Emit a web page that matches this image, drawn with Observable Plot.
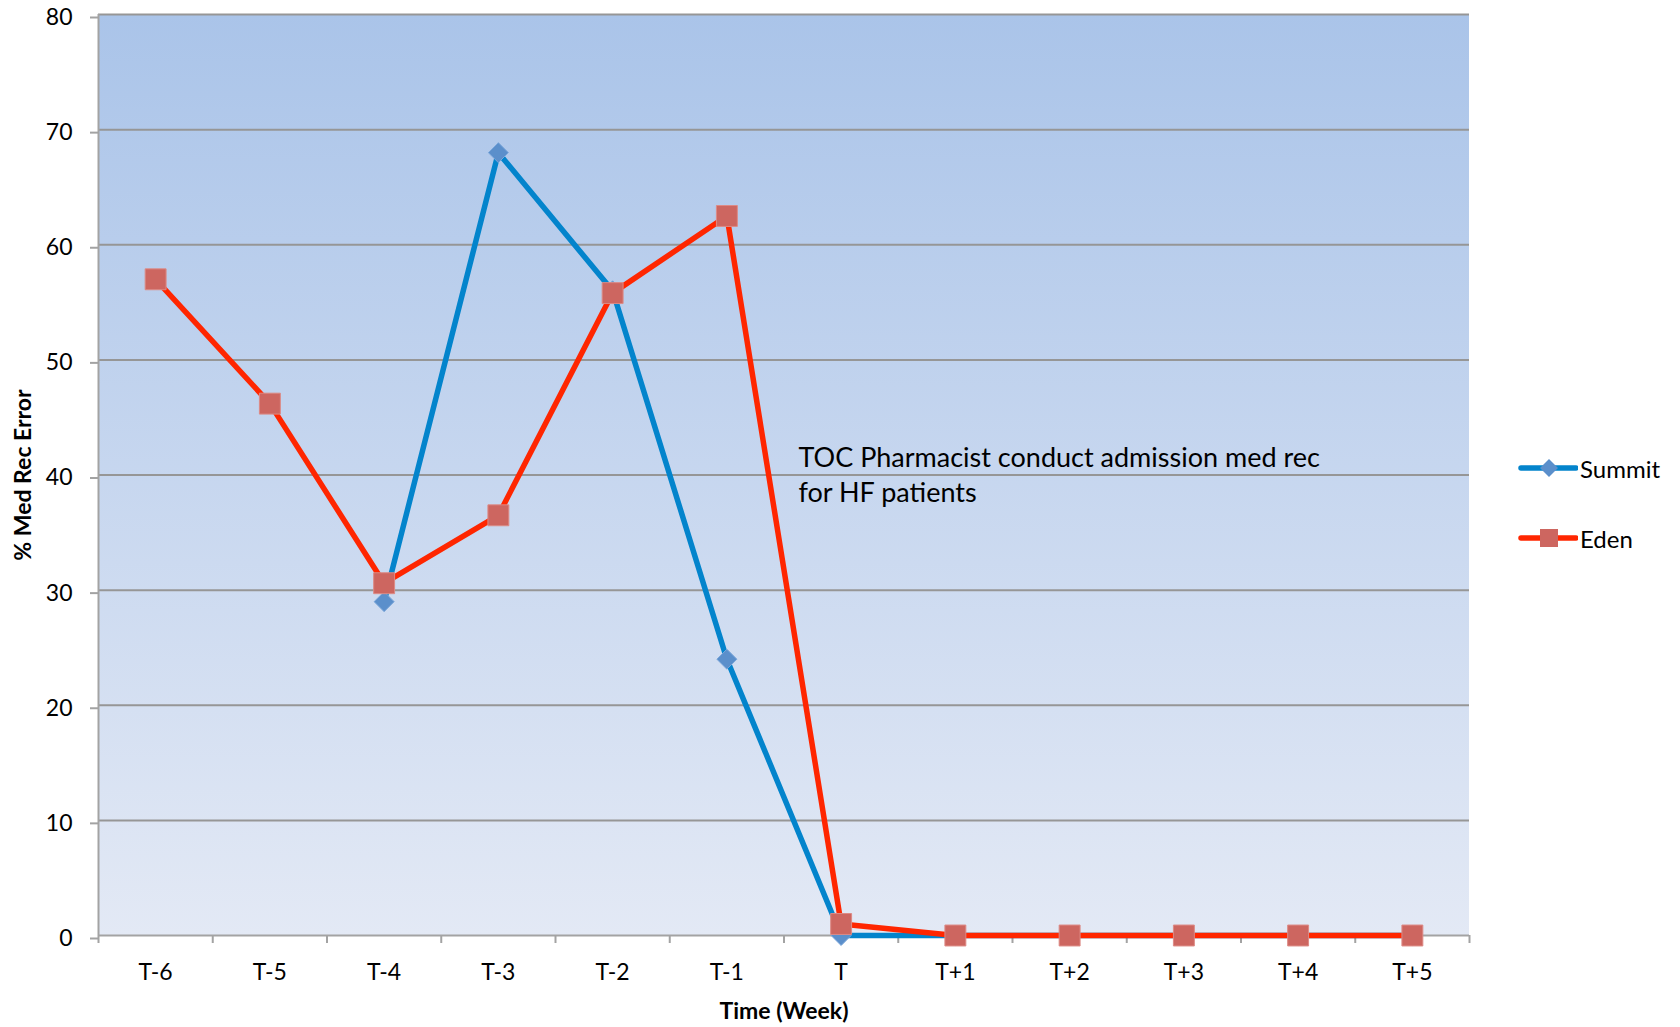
<!DOCTYPE html>
<html>
<head>
<meta charset="utf-8">
<script src="https://cdn.jsdelivr.net/npm/d3@7"></script>
<script src="https://cdn.jsdelivr.net/npm/@observablehq/plot@0.6"></script>
<style>
  html, body { margin: 0; padding: 0; background: #fff; }
  #wrap { position: relative; width: 1680px; height: 1027px; font-family: Lato, "Open Sans", sans-serif; }
  #wrap svg { display: block; }
  .legend { position: absolute; left: 1518px; font-size: 24px; color: #000; display: flex; align-items: center; }
  .legend svg { margin-right: 2px; }
</style>
</head>
<body>
<div id="wrap"></div>
<script>
// Weekly share of admission medication reconciliations with an error
const weeks = ["T-6", "T-5", "T-4", "T-3", "T-2", "T-1", "T", "T+1", "T+2", "T+3", "T+4", "T+5"];
const summit = [null, null, 29, 68, 56, 24, 0, 0, 0, 0, 0, 0];
const eden = [57, 46.2, 30.6, 36.5, 55.8, 62.5, 1, 0, 0, 0, 0, 0];
const yTicks = [0, 10, 20, 30, 40, 50, 60, 70, 80];
const note = "TOC Pharmacist conduct admission med rec\nfor HF patients";

const summitColor = "#0384cc", summitMarker = "#5b8fcb";
const edenColor = "#ff2600", edenMarker = "#cd6660";

const rows = (vals) => vals.map((v, i) => ({week: weeks[i], i, v})).filter(d => d.v != null);
const summitRows = rows(summit);
const edenRows = rows(eden);
const idx = weeks.map((_, i) => i);
const bounds = weeks.map((_, i) => i - 0.5).concat([weeks.length - 0.5]);

// Vertical gradient behind the plotting area
function backdrop(index, scales, values, dim, context) {
  const doc = context.document;
  const ns = "http://www.w3.org/2000/svg";
  const g = doc.createElementNS(ns, "g");
  const defs = doc.createElementNS(ns, "defs");
  const lg = doc.createElementNS(ns, "linearGradient");
  lg.setAttribute("id", "bgGrad");
  lg.setAttribute("x1", "0"); lg.setAttribute("y1", "0");
  lg.setAttribute("x2", "0"); lg.setAttribute("y2", "1");
  [["0", "#aac4e9"], ["1", "#e3e9f5"]].forEach(([o, c]) => {
    const s = doc.createElementNS(ns, "stop");
    s.setAttribute("offset", o); s.setAttribute("stop-color", c);
    lg.appendChild(s);
  });
  defs.appendChild(lg);
  g.appendChild(defs);
  const r = doc.createElementNS(ns, "rect");
  r.setAttribute("x", dim.marginLeft);
  r.setAttribute("y", dim.marginTop);
  r.setAttribute("width", dim.width - dim.marginLeft - dim.marginRight);
  r.setAttribute("height", dim.height - dim.marginTop - dim.marginBottom);
  r.setAttribute("fill", "url(#bgGrad)");
  g.appendChild(r);
  return g;
}

const chart = Plot.plot({
  width: 1680,
  height: 1027,
  marginTop: 14,
  marginLeft: 98,
  marginRight: 211,
  marginBottom: 92,
  style: {fontFamily: "Lato, 'Open Sans', sans-serif", fontSize: "23px", color: "#000", background: "transparent"},
  x: {type: "linear", domain: [-0.5, weeks.length - 0.5]},
  y: {domain: [0, 80]},
  marks: [
    backdrop,
    Plot.gridY(yTicks.filter(t => t > 0), {stroke: "#969696", strokeOpacity: 1, strokeWidth: 2}),
    // y axis: ticks and labels
    Plot.axisY({ticks: yTicks, tickSize: 8, tickPadding: 18, stroke: "#a3a3a3", strokeWidth: 2, dy: 3, fontSize: 23, label: null}),
    // x axis: boundary ticks, then centred week labels
    Plot.axisX({ticks: bounds, tickSize: 8, tickFormat: () => "", stroke: "#a3a3a3", strokeWidth: 2, label: null}),
    Plot.axisX({ticks: idx, tickSize: 0, tickPadding: 28, tickFormat: i => weeks[i], fontSize: 23, label: null}),
    Plot.ruleX([-0.5], {stroke: "#a3a3a3", strokeWidth: 2}),
    Plot.ruleY([0], {stroke: "#a3a3a3", strokeWidth: 2}),
    // Summit
    Plot.line(summitRows, {x: "i", y: "v", stroke: summitColor, strokeWidth: 5.5}),
    Plot.dot(summitRows, {x: "i", y: "v", symbol: "diamond2", r: 9, fill: summitMarker, stroke: "#7aa6da", strokeWidth: 1}),
    // Eden
    Plot.line(edenRows, {x: "i", y: "v", stroke: edenColor, strokeWidth: 5.5}),
    Plot.dot(edenRows, {x: "i", y: "v", symbol: "square", r: 11.8, fill: edenMarker, stroke: "#dd8a85", strokeWidth: 1}),
    // Annotation
    Plot.text([note], {frameAnchor: "top-left", dx: 700, dy: 428, lineAnchor: "top", textAnchor: "start", fontSize: 27, lineHeight: 1.28, fill: "#000"}),
    // Axis titles
    Plot.text(["Time (Week)"], {frameAnchor: "bottom", dy: 83, fontSize: 23, fontWeight: "bold", fill: "#000"}),
    Plot.text(["% Med Rec Error"], {frameAnchor: "left", dx: -75, rotate: -90, textAnchor: "middle", fontSize: 23, fontWeight: "bold", fill: "#000"})
  ]
});

const wrap = document.getElementById("wrap");
wrap.appendChild(chart);

// Legend at the right of the plot
function legendItem(name, color, marker, shape, top) {
  const div = document.createElement("div");
  div.className = "legend";
  div.style.top = (top - 16) + "px";
  const s = d3.create("svg").attr("width", 60).attr("height", 32);
  s.append("line").attr("x1", 3).attr("x2", 58).attr("y1", 16).attr("y2", 16)
    .attr("stroke", color).attr("stroke-width", 5.5).attr("stroke-linecap", "round");
  if (shape === "diamond") {
    s.append("path").attr("d", "M31,7L40,16L31,25L22,16Z").attr("fill", marker);
  } else {
    s.append("rect").attr("x", 22).attr("y", 7).attr("width", 18).attr("height", 18).attr("fill", marker);
  }
  div.appendChild(s.node());
  const t = document.createElement("span");
  t.textContent = name;
  div.appendChild(t);
  wrap.appendChild(div);
}
legendItem("Summit", summitColor, summitMarker, "diamond", 468);
legendItem("Eden", edenColor, edenMarker, "square", 538);
</script>
</body>
</html>
